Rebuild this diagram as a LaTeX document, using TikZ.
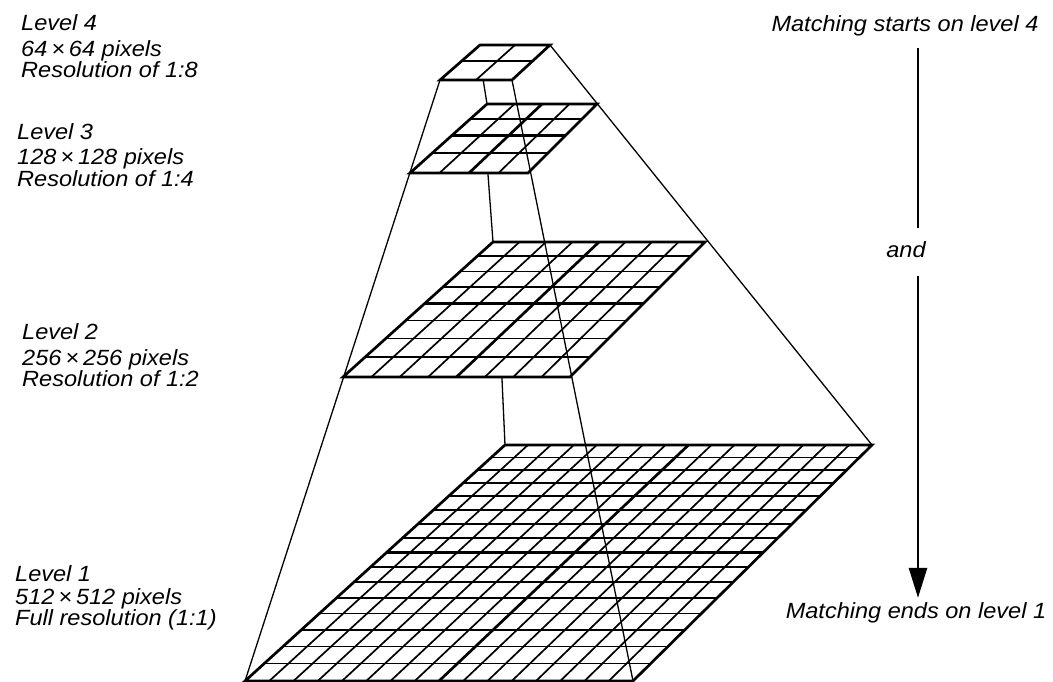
\documentclass[tikz,border=0pt]{standalone}
\usepackage{fontspec}
\setmainfont{Liberation Sans}
\usetikzlibrary{calc,arrows.meta}
\tikzset{
  rim/.style={line width=2.7pt,line join=miter},
  edge/.style={line width=1.3pt},
  lbl/.style={font=\fontsize{22}{21}\selectfont\itshape,inner sep=0pt,xscale=1.07},
  arr/.style={-{Triangle[length=30pt,width=18pt]},line width=2.6pt}
}
% one level of the pyramid: #1 level, #2 cells per side, #3 width of the middle lines
\newcommand{\pyrgrid}[3]{
  \pgfmathtruncatemacro{\nn}{#2-1}
  \foreach \k in {1,...,\nn}{
    \pgfmathsetmacro{\cx}{\k/#2}
    \pgfmathsetmacro{\rf}{\cx/((1-\cx)*1.2+\cx)}
    \pgfmathsetmacro{\lw}{ifthenelse(2*\k==#2,#3,1.7)}
    \draw[line width=\lw pt] ($(#1bl)!\cx!(#1br)$) -- ($(#1tl)!\cx!(#1tr)$);
    \draw[line width=\lw pt] ($(#1tl)!\rf!(#1bl)$) -- ($(#1tr)!\rf!(#1br)$);
  }
  \draw[rim] (#1bl) -- (#1br) -- (#1tr) -- (#1tl) -- cycle;
}

\begin{document}
\begin{tikzpicture}[x=1pt,y=-1pt]
\useasboundingbox (0,0) rectangle (1053,682);

% corners of the four levels
\coordinate (l4bl) at (440,80);  \coordinate (l4br) at (512,80);
\coordinate (l4tr) at (550,45);  \coordinate (l4tl) at (480,45);
\coordinate (l3bl) at (410,173); \coordinate (l3br) at (528,173);
\coordinate (l3tr) at (597,104); \coordinate (l3tl) at (487,104);
\coordinate (l2bl) at (343,377); \coordinate (l2br) at (570,377);
\coordinate (l2tr) at (705,242); \coordinate (l2tl) at (493,242);
\coordinate (l1bl) at (245,681); \coordinate (l1br) at (633,681);
\coordinate (l1tr) at (872,445); \coordinate (l1tl) at (505,445);

\pyrgrid{l4}{2}{1.7}
\pyrgrid{l3}{4}{2.7}
\pyrgrid{l2}{8}{2.7}
\pyrgrid{l1}{16}{2.7}

% pyramid edges
\coordinate (k4) at ($(l4bl)!0.6!(l4br)$);
\coordinate (k3) at ($(l3bl)!0.66!(l3br)$);
\coordinate (k2) at ($(l2bl)!0.7!(l2br)$);
\draw[edge] (l4bl) -- (l1bl);
\draw[edge] (l4tr) -- (l1tr);
\draw[edge] (l4br) -- (l1br);
\draw[edge] (k4) -- (l3tl);
\draw[edge] (k3) -- (l2tl);
\draw[edge] (k2) -- (l1tl);

% level labels (anchored on the last line)
\node[lbl,anchor=base west,align=left] (lv4) at (21,78) {Level 4\\[5pt]64\,×\,64 pixels\\Resolution of 1:8};
\node[lbl,anchor=base west,align=left] (lv3) at (17,186) {Level 3\\[5pt]128\,×\,128 pixels\\Resolution of 1:4};
\node[lbl,anchor=base west,align=left] (lv2) at (22,386) {Level 2\\[5pt]256\,×\,256 pixels\\Resolution of 1:2};
\node[lbl,anchor=base west,align=left] (lv1) at (15,625) {Level 1\\[2pt]512\,×\,512 pixels\\Full resolution (1:1)};

% matching order
\node[lbl,anchor=base] (st) at (905,32) {Matching starts on level 4};
\node[lbl,anchor=base] (ad) at (906,258) {and};
\node[lbl,anchor=base] (en) at (916,618) {Matching ends on level 1};
\coordinate (ax) at (918,0);
\draw[line width=2.6pt,shorten <=11pt,shorten >=14pt] (st.south -| ax) -- (ad.north -| ax);
\draw[arr,shorten <=18pt,shorten >=4pt] (ad.south -| ax) -- (en.north -| ax);
\end{tikzpicture}
\end{document}
